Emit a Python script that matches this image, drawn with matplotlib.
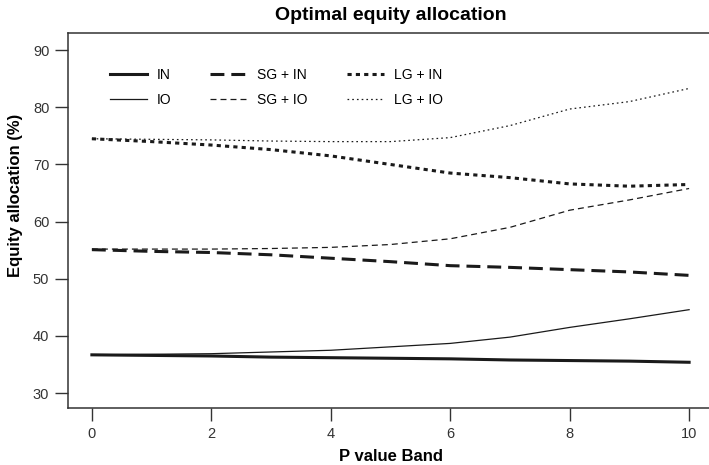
import matplotlib
matplotlib.use("Agg")
import matplotlib.pyplot as plt

plt.rcParams['font.family'] = ['Liberation Sans', 'DejaVu Sans']
plt.rcParams['lines.scale_dashes'] = False

# values
p_band = [0, 1, 2, 3, 4, 5, 6, 7, 8, 9, 10]
alloc_in = [36.7, 36.6, 36.5, 36.3, 36.2, 36.1, 36.0, 35.8, 35.7, 35.6, 35.4]
alloc_io = [36.7, 36.8, 36.9, 37.2, 37.5, 38.1, 38.7, 39.8, 41.5, 43.0, 44.6]
alloc_sg_in = [55.1, 54.8, 54.6, 54.2, 53.6, 53.0, 52.3, 52.0, 51.6, 51.2, 50.6]
alloc_sg_io = [55.2, 55.2, 55.2, 55.3, 55.5, 56.0, 57.0, 59.0, 62.0, 63.8, 65.8]
alloc_lg_in = [74.5, 74.0, 73.4, 72.6, 71.5, 70.0, 68.5, 67.7, 66.6, 66.2, 66.5]
alloc_lg_io = [74.5, 74.4, 74.3, 74.1, 74.0, 74.0, 74.7, 76.8, 79.7, 81.0, 83.3]

ink = '#1a1a1a'
thick = 2.2
thin = 0.9

fig = plt.figure(figsize=(7.09, 4.65), dpi=100)
ax = fig.add_axes([68 / 709, 57 / 465, 645 / 709, 375 / 465])

ax.plot(p_band, alloc_in, color=ink, lw=thick, label='IN')
ax.plot(p_band, alloc_io, color=ink, lw=thin, label='IO')
ax.plot(p_band, alloc_sg_in, color=ink, lw=thick, dashes=(10, 5), label='SG + IN')
ax.plot(p_band, alloc_sg_io, color=ink, lw=thin, dashes=(4.3, 2.9), label='SG + IO')
ax.plot(p_band, alloc_lg_in, color=ink, lw=thick, dashes=(3, 3), label='LG + IN')
ax.plot(p_band, alloc_lg_io, color=ink, lw=thin, dashes=(1.2, 2.2), label='LG + IO')

ax.set_xlim(-0.4, 10.4)
ax.set_ylim(27.4, 93.0)
ax.set_xticks([0, 2, 4, 6, 8, 10])
ax.set_yticks([30, 40, 50, 60, 70, 80, 90])
ax.tick_params(direction='out', length=9.5, width=1, color='#333333',
               labelsize=10.5, labelcolor='#333333', pad=4)
for s in ax.spines.values():
    s.set_color('#333333')
    s.set_linewidth(1.1)

ax.legend(ncol=3, frameon=False, fontsize=10, handlelength=2.66,
          handletextpad=0.72, columnspacing=2.8, labelspacing=0.8,
          borderpad=0, borderaxespad=0, loc='upper left',
          bbox_to_anchor=(110 / 709, 1 - 68 / 465),
          bbox_transform=fig.transFigure)

fig.text(391 / 709, 1 - 15 / 465, 'Optimal equity allocation',
         ha='center', va='center', fontsize=14, fontweight='bold')
fig.text(391 / 709, 1 - 456 / 465, 'P value Band',
         ha='center', va='center', fontsize=12, fontweight='bold')
fig.text(16 / 709, 1 - 195 / 465, 'Equity allocation (%)', rotation=90,
         ha='center', va='center', fontsize=12, fontweight='bold')

fig.savefig('out.png', dpi=100)
